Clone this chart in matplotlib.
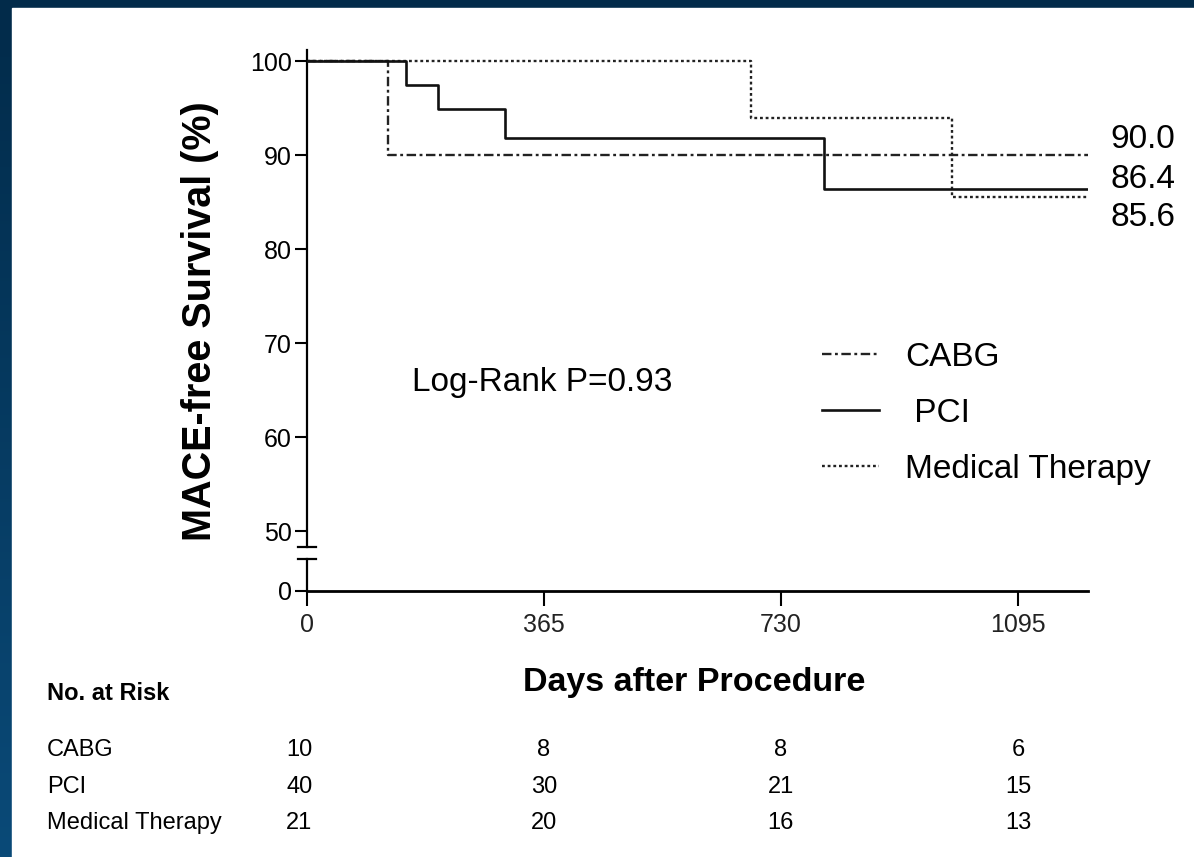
import numpy as np
import matplotlib
matplotlib.use("Agg")
import matplotlib.pyplot as plt
from matplotlib.colors import LinearSegmentedColormap
from matplotlib.patches import Rectangle
from matplotlib.transforms import blended_transform_factory

plt.rcParams['font.family'] = ['Liberation Sans', 'DejaVu Sans']

# Kaplan-Meier step curves (days, MACE-free survival %)
cabg_days = [0, 125, 1203]
cabg_surv = [100, 90.0, 90.0]
pci_days = [0, 153, 202, 305, 797, 1203]
pci_surv = [100, 97.5, 94.9, 91.8, 86.4, 86.4]
med_days = [0, 684, 994, 1203]
med_surv = [100, 94.0, 85.6, 85.6]

final_labels = ['90.0', '86.4', '85.6']

# number at risk table
risk_days = [0, 365, 730, 1095]
risk_groups = ['CABG', 'PCI', 'Medical Therapy']
risk_cabg = [10, 8, 8, 6]
risk_pci = [40, 30, 21, 15]
risk_med = [21, 20, 16, 13]

W, H = 1194, 857


def fx(px):
    return px / W


def fy(py):
    return 1 - py / H


fig = plt.figure(figsize=(W / 100, H / 100), dpi=100)

# navy frame with white panel
bg = fig.add_axes([0, 0, 1, 1], zorder=-10)
cmap = LinearSegmentedColormap.from_list('navy', ['#022b4a', '#0a4a78'])
bg.imshow(np.linspace(0, 1, 256).reshape(-1, 1), aspect='auto', cmap=cmap,
          extent=[0, 1, 0, 1])
bg.add_patch(Rectangle((fx(12), 0), 1, fy(8), color='white'))
bg.set_xlim(0, 1)
bg.set_ylim(0, 1)
bg.axis('off')

left = fx(307)
width = (1088 - 307) / W
ax = fig.add_axes([left, fy(547), width, (547 - 50) / H])
ax_lo = fig.add_axes([left, fy(591), width, (591 - 559) / H])

ax.step(cabg_days, cabg_surv, where='post', color='#222222', lw=1.7,
        linestyle=(0, (4, 1.5, 1.2, 1.5)), label='CABG')
ax.step(pci_days, pci_surv, where='post', color='#111111', lw=1.9,
        label=' PCI', zorder=5)
ax.step(med_days, med_surv, where='post', color='#222222', lw=1.7,
        linestyle=(0, (1.2, 1.2)), label='Medical Therapy')

ax.set_xlim(0, 1203)
ax.set_ylim(48.3, 101.2)
ax_lo.set_xlim(0, 1203)
ax_lo.set_ylim(0, 3.4)

for a in (ax, ax_lo):
    a.spines['top'].set_visible(False)
    a.spines['right'].set_visible(False)
    a.spines['left'].set_linewidth(1.6)
    a.spines['bottom'].set_linewidth(2.0)
    a.patch.set_alpha(0)

ax.spines['bottom'].set_visible(False)
ax.set_xticks([])
ax.set_yticks([50, 60, 70, 80, 90, 100])
ax.tick_params(axis='y', length=9, width=1.5, labelsize=18, pad=2)

ax_lo.set_yticks([0])
ax_lo.set_xticks(risk_days)
ax_lo.tick_params(axis='y', length=9, width=1.5, labelsize=18, pad=2)
ax_lo.tick_params(axis='x', length=11, width=1.5, labelsize=18, pad=5,
                  labelcolor='#222222')

# axis break marks
d = 0.012
ax.plot([-d, d], [0, 0], transform=ax.transAxes, color='black', lw=1.6,
        clip_on=False)
ax_lo.plot([-d, d], [1, 1], transform=ax_lo.transAxes, color='black', lw=1.6,
           clip_on=False)

fig.text(fx(200), fy(321), 'MACE-free Survival (%)', rotation=90,
         fontsize=28.5, fontweight='bold', ha='center', va='center')
fig.text(fx(694), fy(683), 'Days after Procedure', fontsize=24.5,
         fontweight='bold', ha='center', va='center')
fig.text(fx(412), fy(383), 'Log-Rank P=0.93', fontsize=24, ha='left',
         va='center')

for lab, py in zip(final_labels, [140, 180, 218]):
    fig.text(fx(1110), fy(py), lab, fontsize=24, ha='left', va='center')

ax.legend(loc='center left', bbox_to_anchor=(fx(822), fy(413)),
          bbox_transform=fig.transFigure, frameon=False, fontsize=24,
          handlelength=1.7, handletextpad=0.8, labelspacing=0.75,
          borderpad=0, borderaxespad=0)

# number at risk table
fig.text(fx(47), fy(693), 'No. at Risk', fontsize=17, fontweight='bold',
         ha='left', va='center')
tr = blended_transform_factory(ax_lo.transData, fig.transFigure)
rows = [risk_cabg, risk_pci, risk_med]
for name, vals, py in zip(risk_groups, rows, [750, 787, 823]):
    fig.text(fx(47), fy(py), name, fontsize=17, ha='left', va='center')
    for i, (dd, v) in enumerate(zip(risk_days, vals)):
        xpos = dd if i > 0 else dd - 12
        fig.text(xpos, fy(py), str(v), fontsize=17, ha='center',
                 va='center', transform=tr)

fig.savefig('out.png', dpi=100)
